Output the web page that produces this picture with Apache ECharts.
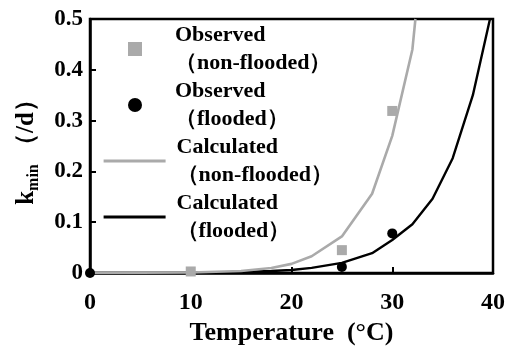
<!DOCTYPE html>
<html><head><meta charset="utf-8">
<script src="https://cdn.jsdelivr.net/npm/echarts@6/dist/echarts.min.js"></script>
<style>html,body{margin:0;padding:0;background:#fff}#c{width:509px;height:351px}</style>
</head><body><div id="c"></div>
<script>
// Data
var obsNonFloodedT = [10, 25, 30];
var obsNonFloodedK = [0.003, 0.045, 0.319];
var obsFloodedT = [0, 25, 30];
var obsFloodedK = [0, 0.012, 0.078];
var calcNonFloodedT = [0, 10, 15, 18, 20, 22, 25, 28, 30, 32, 32.3];
var calcNonFloodedK = [0, 0.001, 0.004, 0.010, 0.018, 0.033, 0.072, 0.156, 0.27, 0.44, 0.5];
var calcFloodedT = [0, 10, 15, 18, 20, 22, 25, 28, 30, 32, 34, 36, 38, 39.7];
var calcFloodedK = [0, 0.0005, 0.002, 0.004, 0.006, 0.010, 0.020, 0.039, 0.065, 0.096, 0.146, 0.226, 0.35, 0.5];
var legendNames = ['Observed\n（non-flooded）', 'Observed\n（flooded）', 'Calculated\n（non-flooded）', 'Calculated\n（flooded）'];
var xTitle = 'Temperature  (°C)';

function pairs(a, b) { return a.map(function (v, i) { return [v, b[i]]; }); }

var FONT = '"Liberation Serif", "Times New Roman", serif';
var GRAY = '#aaaaaa';
var legendText = {fontFamily: FONT, fontWeight: 'bold', fontSize: 22, lineHeight: 28, color: '#000'};
var chart = echarts.init(document.getElementById('c'), null, {renderer: 'canvas'});
chart.setOption({
  animation: false,
  grid: {left: 90, right: 16, top: 19, bottom: 76, show: true, borderColor: '#000', borderWidth: 2.5, backgroundColor: 'transparent'},
  legend: [{
    orient: 'vertical', left: 123, top: 16, itemWidth: 14, itemHeight: 14, itemGap: 0,
    data: [
      {name: legendNames[0], icon: 'rect'},
      {name: legendNames[1], icon: 'circle'}
    ],
    textStyle: Object.assign({}, legendText, {padding: [0, 0, 0, 28]})
  }, {
    orient: 'vertical', left: 97, top: 128, itemWidth: 62, itemHeight: 2, itemGap: 0,
    lineStyle: {width: 3.2},
    data: [
      {name: legendNames[2]},
      {name: legendNames[3]}
    ],
    textStyle: Object.assign({}, legendText, {padding: [0, 0, 0, 6]})
  }],
  xAxis: {
    type: 'value', min: 0, max: 40, interval: 10,
    name: xTitle, nameLocation: 'middle', nameGap: 47,
    nameTextStyle: {fontFamily: FONT, fontWeight: 'bold', fontSize: 26, color: '#000'},
    axisLine: {lineStyle: {color: '#000', width: 2.5}},
    axisTick: {inside: true, length: 6, lineStyle: {color: '#000', width: 2}},
    axisLabel: {fontFamily: FONT, fontWeight: 'bold', fontSize: 24, color: '#000', margin: 18},
    splitLine: {show: false}
  },
  yAxis: {
    type: 'value', min: 0, max: 0.5, interval: 0.1,
    name: '{k|k}{m|min}{k| （/d）}', nameLocation: 'middle', nameGap: 48,
    nameTextStyle: {
      rich: {
        k: {fontFamily: FONT, fontWeight: 'bold', fontSize: 25, color: '#000', lineHeight: 30},
        m: {fontFamily: FONT, fontWeight: 'bold', fontSize: 16, color: '#000', verticalAlign: 'bottom', lineHeight: 22}
      }
    },
    axisLine: {lineStyle: {color: '#000', width: 2.5}},
    axisTick: {inside: true, length: 6, lineStyle: {color: '#000', width: 2}},
    axisLabel: {fontFamily: FONT, fontWeight: 'bold', fontSize: 23, color: '#000', margin: 7},
    splitLine: {show: false}
  },
  series: [
    {name: legendNames[0], type: 'scatter', symbol: 'rect', symbolSize: 10, itemStyle: {color: GRAY, opacity: 1}, z: 5, data: pairs(obsNonFloodedT, obsNonFloodedK)},
    {name: legendNames[1], type: 'scatter', symbol: 'circle', symbolSize: 10, itemStyle: {color: '#000', opacity: 1}, z: 6, data: pairs(obsFloodedT, obsFloodedK)},
    {name: legendNames[2], type: 'line', showSymbol: false, symbol: 'none', lineStyle: {color: GRAY, width: 2.6}, itemStyle: {color: GRAY}, z: 4, data: pairs(calcNonFloodedT, calcNonFloodedK)},
    {name: legendNames[3], type: 'line', showSymbol: false, symbol: 'none', lineStyle: {color: '#000', width: 2.4}, itemStyle: {color: '#000'}, z: 3, data: pairs(calcFloodedT, calcFloodedK)}
  ]
});
</script></body></html>
